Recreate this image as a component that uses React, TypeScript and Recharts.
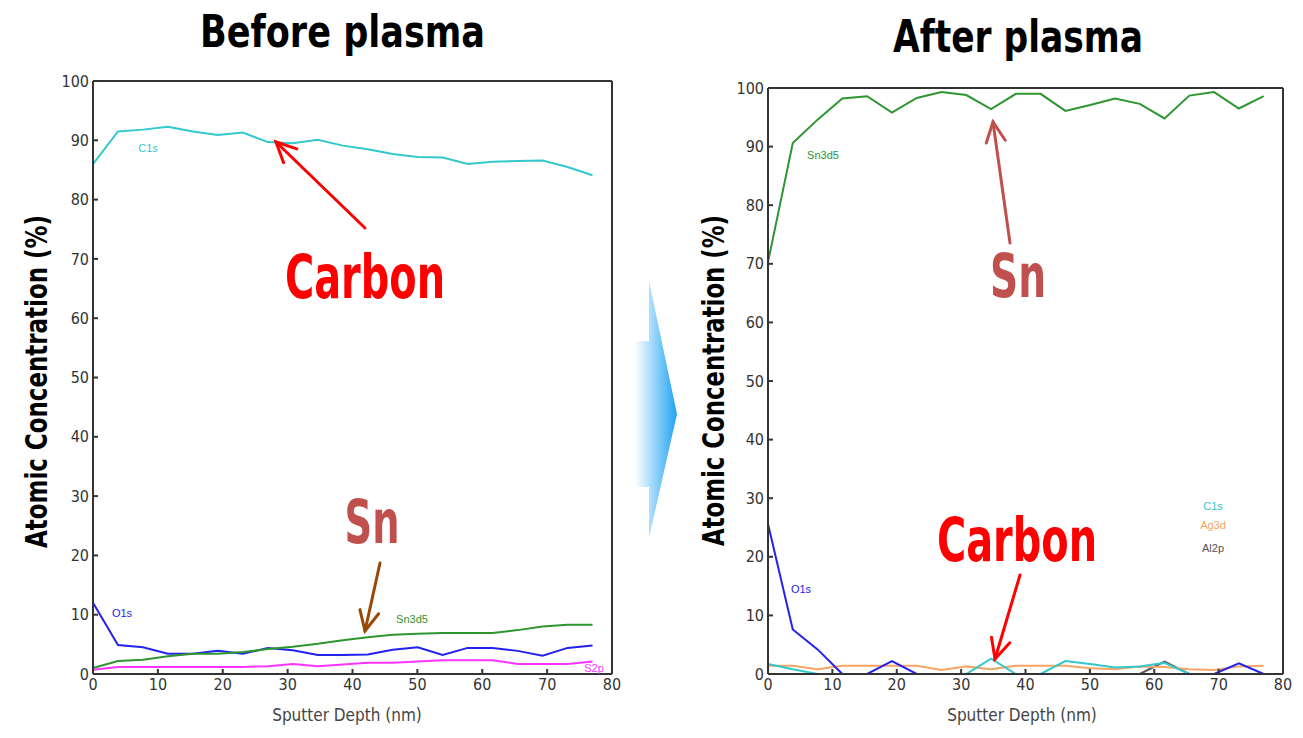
import React from "react";
import { Line, LineChart, XAxis, YAxis } from "recharts";

// sputter depth grid (nm), shared by both profiles
const depth = [0, 3.85, 7.7, 11.55, 15.4, 19.25, 23.1, 26.95, 30.8, 34.65, 38.5, 42.35, 46.2, 50.05, 53.9, 57.75, 61.6, 65.45, 69.3, 73.15, 77];

// before plasma (%)
const c1sBefore = [86.0, 91.5, 91.8, 92.3, 91.5, 90.9, 91.3, 89.7, 89.5, 90.1, 89.1, 88.5, 87.7, 87.2, 87.1, 86.0, 86.4, 86.5, 86.6, 85.5, 84.1];
const o1sBefore = [12.0, 4.9, 4.5, 3.4, 3.4, 3.9, 3.4, 4.4, 4.0, 3.2, 3.2, 3.3, 4.1, 4.5, 3.2, 4.4, 4.4, 3.9, 3.1, 4.4, 4.8];
const snBefore = [1.0, 2.2, 2.4, 3.0, 3.4, 3.4, 3.7, 4.2, 4.6, 5.1, 5.7, 6.2, 6.6, 6.8, 6.9, 6.9, 6.9, 7.4, 8.0, 8.3, 8.3];
const s2pBefore = [0.7, 1.2, 1.2, 1.2, 1.2, 1.2, 1.2, 1.3, 1.7, 1.3, 1.6, 1.9, 1.9, 2.1, 2.3, 2.3, 2.3, 1.7, 1.7, 1.7, 2.1];

// after plasma (%)
const snAfter = [70.3, 90.6, 94.6, 98.2, 98.6, 95.8, 98.3, 99.3, 98.8, 96.4, 99.0, 99.0, 96.1, 97.1, 98.2, 97.3, 94.8, 98.7, 99.3, 96.5, 98.6];
const o1sAfter = [25.6, 7.6, 4.2, 0, 0, 2.2, 0, 0, 0, 0, 0, 0, 0, 0, 0, 0, 0, 0, 0, 1.8, 0];
const c1sAfter = [1.7, 0.8, 0, 0, 0, 0, 0, 0, 0, 2.6, 0, 0, 2.2, 1.7, 1.1, 1.3, 1.9, 0, 0, 0, 0];
const ag3dAfter = [1.4, 1.4, 0.8, 1.4, 1.4, 1.4, 1.4, 0.7, 1.3, 0.8, 1.4, 1.4, 1.4, 1.0, 0.8, 1.3, 1.2, 0.8, 0.7, 1.3, 1.4];
const al2pAfter = [0, 0, 0, 0, 0, 0, 0, 0, 0, 0, 0, 0, 0, 0, 0, 0, 2.1, 0, 0, 0, 0];

const xTicks = [0, 10, 20, 30, 40, 50, 60, 70, 80];
const yTicks = [0, 10, 20, 30, 40, 50, 60, 70, 80, 90, 100];

const beforeRows = depth.map((d, i) => ({
  depth: d,
  c1s: c1sBefore[i],
  o1s: o1sBefore[i],
  sn: snBefore[i],
  s2p: s2pBefore[i],
}));

const afterRows = depth.map((d, i) => ({
  depth: d,
  sn: snAfter[i],
  o1s: o1sAfter[i],
  c1s: c1sAfter[i],
  ag3d: ag3dAfter[i],
  al2p: al2pAfter[i],
}));

const cond = "'DejaVu Sans Condensed', 'DejaVu Sans', sans-serif";
const frame = "#333";
const tickStyle = { fill: "#333", fontSize: 16, fontFamily: cond };

function Frame() {
  return (
    <>
      <XAxis
        xAxisId="b"
        dataKey="depth"
        type="number"
        domain={[0, 80]}
        ticks={xTicks}
        height={30}
        tick={tickStyle}
        tickSize={-5}
        tickMargin={10}
        axisLine={{ stroke: frame, strokeWidth: 2 }}
        tickLine={{ stroke: frame, strokeWidth: 2 }}
        interval={0}
      />
      <XAxis
        xAxisId="t"
        orientation="top"
        dataKey="depth"
        type="number"
        domain={[0, 80]}
        ticks={xTicks}
        height={1}
        tick={false}
        tickSize={-5}
        axisLine={{ stroke: frame, strokeWidth: 2 }}
        tickLine={{ stroke: frame, strokeWidth: 2 }}
      />
      <YAxis
        yAxisId="l"
        type="number"
        domain={[0, 100]}
        ticks={yTicks}
        width={50}
        tick={tickStyle}
        tickSize={-5}
        tickMargin={9}
        axisLine={{ stroke: frame, strokeWidth: 2 }}
        tickLine={{ stroke: frame, strokeWidth: 2 }}
        interval={0}
      />
      <YAxis
        yAxisId="r"
        orientation="right"
        type="number"
        domain={[0, 100]}
        ticks={yTicks}
        width={1}
        tick={false}
        tickSize={-5}
        axisLine={{ stroke: frame, strokeWidth: 2 }}
        tickLine={{ stroke: frame, strokeWidth: 2 }}
      />
    </>
  );
}

function Series({ dataKey, color }: { dataKey: string; color: string }) {
  return (
    <Line
      xAxisId="b"
      yAxisId="l"
      type="linear"
      dataKey={dataKey}
      stroke={color}
      strokeWidth={2}
      dot={false}
      isAnimationActive={false}
    />
  );
}

function Arrow({ x1, y1, x2, y2, color, w = 3 }: { x1: number; y1: number; x2: number; y2: number; color: string; w?: number }) {
  const a = Math.atan2(y2 - y1, x2 - x1);
  const len = 22;
  const spread = 0.45;
  const p1 = [x2 - len * Math.cos(a - spread), y2 - len * Math.sin(a - spread)];
  const p2 = [x2 - len * Math.cos(a + spread), y2 - len * Math.sin(a + spread)];
  return (
    <g stroke={color} strokeWidth={w} fill="none" strokeLinecap="round">
      <line x1={x1} y1={y1} x2={x2} y2={y2} />
      <polyline points={`${p1[0]},${p1[1]} ${x2},${y2} ${p2[0]},${p2[1]}`} />
    </g>
  );
}

function Big({ x, y, color, len, children }: { x: number; y: number; color: string; len: number; children: React.ReactNode }) {
  return (
    <text
      x={x - len / 2}
      y={y}
      textLength={len}
      lengthAdjust="spacingAndGlyphs"
      fill={color}
      fontFamily={cond}
      fontWeight="bold"
      fontSize={60}
    >
      {children}
    </text>
  );
}

function Small({ x, y, color, children }: { x: number; y: number; color: string; children: React.ReactNode }) {
  return (
    <text x={x} y={y} fill={color} fontFamily="'Liberation Sans', sans-serif" fontSize={11} textAnchor="middle">
      {children}
    </text>
  );
}

export default function App() {
  return (
    <div style={{ position: "absolute", left: 0, top: 0, width: 1303, height: 738, background: "#fff", overflow: "hidden" }}>
      <div style={{ position: "absolute", left: 0, top: 0 }}>
        <LineChart width={640} height={738} data={beforeRows} margin={{ top: 80, right: 27, bottom: 34, left: 43 }}>
          {Frame()}
          <Series dataKey="s2p" color="#ff33ff" />
          <Series dataKey="o1s" color="#2222ee" />
          <Series dataKey="sn" color="#2e9630" />
          <Series dataKey="c1s" color="#33c8cc" />
        </LineChart>
      </div>
      <div style={{ position: "absolute", left: 680, top: 0 }}>
        <LineChart width={623} height={738} data={afterRows} margin={{ top: 87, right: 19, bottom: 34, left: 38 }}>
          {Frame()}
          <Series dataKey="al2p" color="#555555" />
          <Series dataKey="ag3d" color="#f7a565" />
          <Series dataKey="c1s" color="#33c8cc" />
          <Series dataKey="o1s" color="#2222ee" />
          <Series dataKey="sn" color="#2e9630" />
        </LineChart>
      </div>
      <svg width={1303} height={738} style={{ position: "absolute", left: 0, top: 0, pointerEvents: "none" }}>
        <defs>
          <linearGradient id="blueArrow" x1="0" y1="0" x2="1" y2="0">
            <stop offset="0%" stopColor="#ffffff" />
            <stop offset="100%" stopColor="#1fa2f4" />
          </linearGradient>
        </defs>
        <polygon points="635,341 649,341 649,281 677,414 649,538 649,487 635,487" fill="url(#blueArrow)" />

        <text x={200} y={47} textLength={285} lengthAdjust="spacingAndGlyphs" fontFamily={cond} fontWeight="bold" fontSize={45} fill="#000">
          Before plasma
        </text>
        <text x={893} y={52} textLength={250} lengthAdjust="spacingAndGlyphs" fontFamily={cond} fontWeight="bold" fontSize={45} fill="#000">
          After plasma
        </text>

        <text transform="translate(47,548) rotate(-90)" textLength={333} lengthAdjust="spacingAndGlyphs" fontFamily={cond} fontWeight="bold" fontSize={30} fill="#000">
          Atomic Concentration (%)
        </text>
        <text transform="translate(724,546) rotate(-90)" textLength={331} lengthAdjust="spacingAndGlyphs" fontFamily={cond} fontWeight="bold" fontSize={30} fill="#000">
          Atomic Concentration (%)
        </text>

        <text x={347} y={721} textAnchor="middle" fontFamily={cond} fontSize={17} fill="#444">
          Sputter Depth (nm)
        </text>
        <text x={1022} y={721} textAnchor="middle" fontFamily={cond} fontSize={17} fill="#444">
          Sputter Depth (nm)
        </text>

        <Small x={148} y={152} color="#33c8cc">C1s</Small>
        <Small x={122} y={617} color="#2222ee">O1s</Small>
        <Small x={412} y={623} color="#2e9630">Sn3d5</Small>
        <Small x={594} y={672} color="#ff33ff">S2p</Small>

        <Small x={823} y={159} color="#2e9630">Sn3d5</Small>
        <Small x={801} y={593} color="#2222ee">O1s</Small>
        <Small x={1213} y={510} color="#33c8cc">C1s</Small>
        <Small x={1213} y={529} color="#f7a565">Ag3d</Small>
        <Small x={1213} y={552} color="#555555">Al2p</Small>

        <Big x={365} y={298} len={160} color="#ff0000">Carbon</Big>
        <Arrow x1={365} y1={228} x2={276} y2={142} color="#ff0000" />
        <Big x={372} y={543} len={55} color="#c0504d">Sn</Big>
        <Arrow x1={380} y1={563} x2={365} y2={631} color="#984807" />

        <Big x={1018} y={297} len={56} color="#c0504d">Sn</Big>
        <Arrow x1={1010} y1={243} x2={993} y2={122} color="#c0504d" />
        <Big x={1017} y={561} len={160} color="#ff0000">Carbon</Big>
        <Arrow x1={1020} y1={575} x2={995} y2={659} color="#ff0000" />
      </svg>
    </div>
  );
}
